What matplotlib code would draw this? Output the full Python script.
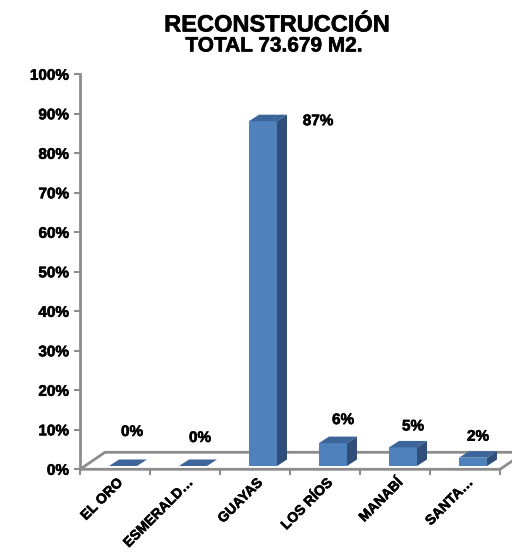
import matplotlib.pyplot as plt
from matplotlib.patches import Polygon
import matplotlib.patheffects as pe

plt.rcParams['font.family'] = ['Liberation Sans', 'DejaVu Sans']
plt.rcParams['font.weight'] = 'bold'

# data
categories = ['EL ORO', 'ESMERALD…', 'GUAYAS', 'LOS RÍOS', 'MANABÍ', 'SANTA…']
shares = [0.0, 0.0, 0.873, 0.058, 0.047, 0.021]
title = 'RECONSTRUCCIÓN'
subtitle = 'TOTAL 73.679 M2.'

# label offsets in pixels (dx from category center, dy above bar top)
label_offsets = [(17, 34), (15, 28), (63, 0), (18, 23), (18, 21), (13, 21)]

front_c = '#4F81BD'
top_c = '#3C659A'
side_c = '#2F4F7A'
grid_c = '#8C8C8C'
heavy = [pe.withStroke(linewidth=0.4, foreground='black')]

W, H = 512, 553
fig = plt.figure(figsize=(W / 100, H / 100), dpi=100)
ax = fig.add_axes([80 / W, (H - 469.3) / H, 420 / W, 395 / H])
ax.set_xlim(0, len(categories))
ax.set_ylim(0, 1)

px_x = 1 / 70.0    # data units per pixel
px_y = 1 / 395.0

# floor
fdx, fdy = 25 * px_x, 17 * px_y
n = len(categories)
floor = Polygon([(0, 0), (n, 0), (n + fdx, fdy), (fdx, fdy)], closed=True,
                facecolor='white', edgecolor=grid_c, lw=2, clip_on=False, zorder=1)
ax.add_patch(floor)

# bars with pseudo 3d
bw = 0.4
bdx, bdy = 10 * px_x, 6.5 * px_y
base = 3.3 * px_y
for i, v in enumerate(shares):
    x0 = i + 0.5 - 6 * px_x
    ax.bar(x0, v, width=bw, bottom=base, align='edge', color=front_c,
           zorder=3, clip_on=False)
    top = base + v
    ax.add_patch(Polygon([(x0, top), (x0 + bw, top), (x0 + bw + bdx, top + bdy),
                          (x0 + bdx, top + bdy)], closed=True, facecolor=top_c,
                         edgecolor='none', zorder=3, clip_on=False))
    ax.add_patch(Polygon([(x0 + bw, base), (x0 + bw + bdx, base + bdy),
                          (x0 + bw + bdx, top + bdy), (x0 + bw, top)], closed=True,
                         facecolor=side_c, edgecolor='none', zorder=3, clip_on=False))
    dx, dy = label_offsets[i]
    ax.annotate(f'{v * 100:.0f}%', xy=(i + 0.5, top), xytext=(dx * 0.72, dy * 0.72),
                textcoords='offset points', ha='center', va='center',
                fontsize=11, fontweight='bold', path_effects=heavy)

# axes styling
for s in ['top', 'right', 'bottom']:
    ax.spines[s].set_visible(False)
ax.spines['left'].set_color(grid_c)
ax.spines['left'].set_linewidth(2)
ax.set_yticks([i / 10 for i in range(11)])
ax.set_yticklabels([f'{i * 10}%' for i in range(11)], fontsize=11, fontweight='bold',
                   path_effects=heavy)
ax.tick_params(axis='y', color=grid_c, length=4, width=1.5, pad=4)
ax.set_xticks(range(n + 1))
ax.set_xticklabels([])
ax.tick_params(axis='x', color=grid_c, length=4, width=1.5)

for i, c in enumerate(categories):
    ax.annotate(c, xy=(i + 0.5, 0), xytext=(4, -8), textcoords='offset points',
                rotation=45, rotation_mode='anchor', ha='right', va='center',
                fontsize=10, fontweight='bold', path_effects=heavy)

fig.text(277 / W, 1 - 25 / H, title, ha='center', va='center', fontsize=17,
         fontweight='bold', path_effects=heavy)
fig.text(274 / W, 1 - 46 / H, subtitle, ha='center', va='center', fontsize=15,
         fontweight='bold', path_effects=heavy)

fig.savefig('out.png', dpi=100)
